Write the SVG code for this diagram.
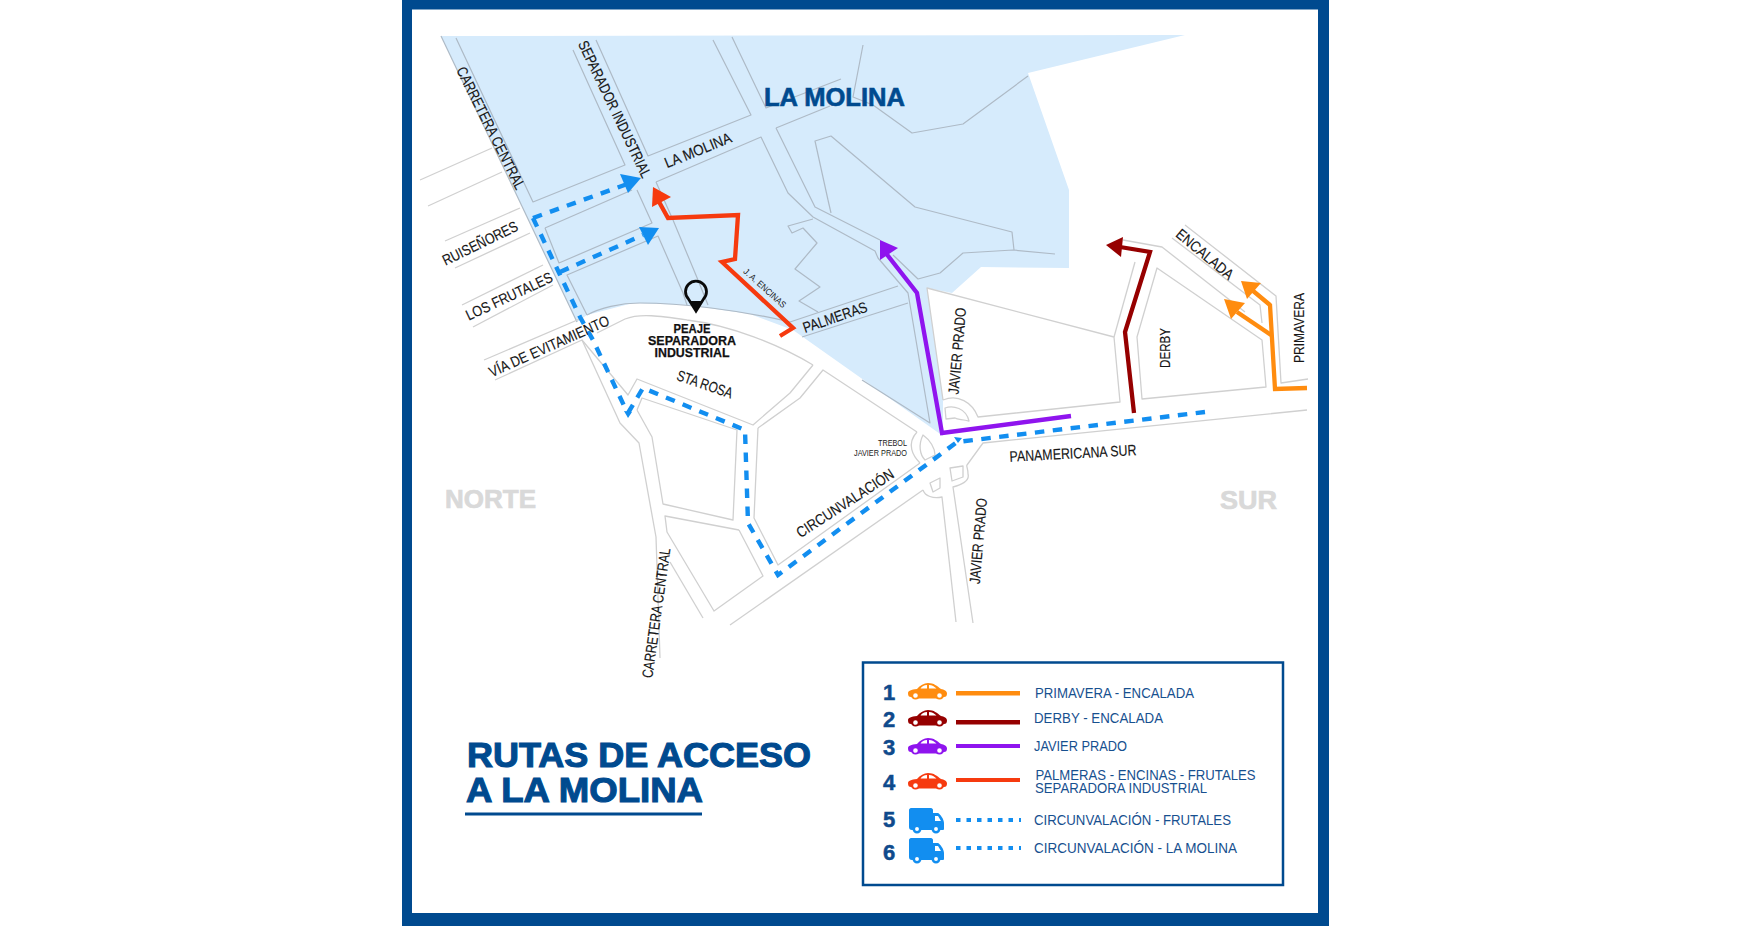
<svg xmlns="http://www.w3.org/2000/svg" width="1749" height="930" viewBox="0 0 1749 930">
<style>
text{font-family:"Liberation Sans",Arial,sans-serif}
.r{fill:none;stroke:#d0d0d0;stroke-width:1.300;stroke-linejoin:round}
.b{fill:none;stroke:#aebac6;stroke-width:1.200;stroke-linejoin:round}
.l{font-size:15px;fill:#161616;text-anchor:middle;stroke:#161616;stroke-width:.15}
.rt{fill:none;stroke-width:4.300;stroke-linejoin:miter}
.d{fill:none;stroke:#128ef0;stroke-width:4.400;stroke-dasharray:9.500 8.500}
.lg{font-size:15px;fill:#17508f}
.n{font-size:22px;font-weight:700;fill:#0f4a8c;text-anchor:middle;stroke:#0f4a8c;stroke-width:.5}
.t{font-size:35px;font-weight:700;fill:#004a8f;stroke:#004a8f;stroke-width:1.100}
.z{font-size:26px;font-weight:700;fill:#d9d9d9;stroke:#d9d9d9;stroke-width:.7}
.p{font-size:12.500px;font-weight:700;fill:#111;text-anchor:middle;stroke:#111;stroke-width:.25}
</style>
<defs>
<g id="car"><path fill="currentColor" d="M0,10C0,8 3,6.500 9,6C12,2.500 16,0 20,0C26,0 29,3 33,6C36,6.500 39,8 39,10.500C39,13 38,14 36,14L33,15.500H6L3,14C1,14 0,13 0,10Z"/><path fill="#fff" d="M12.500,5.500C14,3 16,2.200 19,2V5.500ZM21,2C24,2.200 26.500,3.500 28.500,5.500H21Z"/><circle cx="7.500" cy="12.500" r="3.200" fill="#fff" stroke="currentColor" stroke-width="1.800"/><circle cx="31.500" cy="12.500" r="3.200" fill="#fff" stroke="currentColor" stroke-width="1.800"/></g>
<g id="truck"><path fill="#128ef0" d="M2,0H22C23,0 24,1 24,2V5H29C31,6 35,11 35,15V21C35,22 34,22 33,22H3C1,22 0,21 0,19V2C0,1 1,0 2,0Z"/><path fill="#fff" d="M26,8H29L32,13H26Z"/><circle cx="8" cy="21" r="3.200" fill="#fff" stroke="#128ef0" stroke-width="2.500"/><circle cx="27" cy="21" r="3.200" fill="#fff" stroke="#128ef0" stroke-width="2.500"/></g>
</defs>
<rect width="1749" height="930" fill="#fff"/>
<g id="frame"><rect x="402" y="0" width="927" height="926" fill="#004a8f"/><rect x="412" y="9.500" width="906" height="903.500" fill="#fff"/></g>
<polygon id="area" fill="#d6ebfc" points="441,36 1185,35 1028,73 1069,190 1069,268 981,267 952,293 927,288 943,400 943,436 793,330 750,314 687,305 633,303 587,315 577,322"/>
<g id="roads">
<polyline class="b" points="441,36 577,322"/>
<polyline class="b" points="456,38 533,202 625,165 573,50"/>
<polyline class="b" points="596,40 648,156 751,115 713,40"/>
<polyline class="b" points="732,37 766,108 841,79"/>
<polyline class="b" points="863,45 853,97 873,105 912,133 963,124 1028,76"/>
<polyline class="b" points="776,128 830,106"/>
<polyline class="b" points="776,128 815,207 880,240"/>
<polyline class="b" points="893,255 918,279 940,273 963,253 1013,250 1055,254"/>
<polyline class="b" points="828,200 815,141 831,136 915,207 1012,232 1014,250"/>
<polyline class="b" points="828,200 831,213"/>
<polyline class="b" points="656,182 761,137 788,193 813,217 875,251 878,258 908,293 930,423 862,380"/>
<polyline class="b" points="813,219 788,226 792,233 803,228 817,243 795,269 820,287 799,301 818,312"/>
<polyline class="b" points="790,322 898,286"/>
<polyline class="b" points="802,337 908,303"/>
<polyline class="b" points="545,228 632,190"/>
<polyline class="b" points="545,228 559,263 652,223 637,190"/>
<polyline class="b" points="587,315 567,275 658,236 683,293 687,305"/>
<polyline class="b" points="656,182 673,220 698,280 708,305"/>
<path class="b" d="M587,315C600,308 620,303 640,303C680,303 740,310 790,322"/>
<polyline class="r" points="420,180 492,148"/>
<polyline class="r" points="428,206 502,172"/>
<polyline class="r" points="445,241 520,208"/>
<polyline class="r" points="455,268 530,233"/>
<polyline class="r" points="462,305 543,265"/>
<polyline class="r" points="473,327 553,285"/>
<polyline class="r" points="484,360 582,318"/>
<polyline class="r" points="495,380 582,340 628,395 637,379 753,425 790,393 813,365"/>
<path class="r" d="M813,365C780,345 730,325 687,320C660,316 640,313 625,319L597,333"/>
<polyline class="r" points="582,340 620,423 639,443 656,537 660,658"/>
<polyline class="r" points="637,410 652,437 663,504 733,520 737,430 642,398 637,410"/>
<polyline class="r" points="758,428 754,518 778,565 920,463"/>
<polyline class="r" points="758,428 800,398 823,370 917,432"/>
<path class="r" d="M917,432C906,444 913,456 920,463"/>
<polyline class="r" points="739,530 763,576 714,611 667,532 665,516 739,530"/>
<polyline class="r" points="670,562 703,618"/>
<polyline class="r" points="730,625 923,490"/>
<path class="r" d="M923,490C925,496 933,499 942,497L956,622"/>
<path class="r" d="M973,623L953,487C961,485 970,481 968,474C968,468 966,466 967,465L983,443L1307,410"/>
<path class="r" d="M943,400C958,394 972,402 978,417L1120,402L1114,337L927,288L943,400"/>
<path class="r" d="M945,408C953,405 966,408 969,421C962,419 958,420 955,418L946,419Z"/>
<path class="r" d="M923,435C930,440 935,448 935,455L925,460C920,455 918,445 923,435Z"/>
<polygon class="r" points="950,468 963,466 963,477 952,481"/>
<polygon class="r" points="930,483 940,478 940,488 933,492"/>
<polyline class="r" points="1114,337 1135,262"/>
<polygon class="r" points="1142,399 1137,337 1157,268 1262,340 1266,387"/>
<polyline class="r" points="1185,225 1276,296 1281,383 1308,379"/>
<polyline class="r" points="1123,240 1162,247 1245,312"/>
<polyline class="r" points="1172,238 1260,305 1262,323"/>
</g>
<g id="connectors">
<polyline class="d" points="533,218 580,317 593,340 627,412"/>
<polyline class="d" points="628,413 643,388 745,430 748,523 778,575 957,442 1205,412"/>
<polyline class="d" points="533,218 630,183"/>
<polygon fill="#128ef0" points="641,178 620,174 628,193"/>
<polyline class="d" points="560,272 643,235"/>
<polygon fill="#128ef0" points="659,228 639,227 648,245"/>
<polygon fill="#128ef0" points="624,411 632,412 628,418"/>
<polygon fill="#128ef0" points="954,437 962,438 958,443"/>
<polyline class="rt" stroke="#f63a0f" points="780,336 793,328 722,262 735,259 738,215 668,218 658,200"/>
<polygon fill="#f63a0f" points="653,187 652,207 671,197"/>
<polyline class="rt" stroke="#8f14ee" points="1071,416 942,433 917,293 885,252"/>
<polygon fill="#8f14ee" points="880,240 880,260 898,248"/>
<polyline class="rt" stroke="#960000" points="1134,413 1125,332 1150,252 1120,247"/>
<polygon fill="#960000" points="1106,245 1123,237 1121,257"/>
<polyline class="rt" stroke="#ff8c0f" points="1307,388 1275,389 1270,305 1252,290"/>
<polygon fill="#ff8c0f" points="1241,281 1261,283 1247,299"/>
<polyline class="rt" stroke="#ff8c0f" points="1271,335 1237,312"/>
<polygon fill="#ff8c0f" points="1224,299 1245,303 1231,319"/>
</g>
<g id="labels">
<text class="l" dy=".36em" transform="translate(491,128) rotate(63.500)" textLength="135" lengthAdjust="spacingAndGlyphs">CARRETERA CENTRAL</text>
<text class="l" dy=".36em" transform="translate(615,109) rotate(64.500)" textLength="150" lengthAdjust="spacingAndGlyphs">SEPARADOR INDUSTRIAL</text>
<text class="l" dy=".36em" transform="translate(698,150) rotate(-22)" textLength="71" lengthAdjust="spacingAndGlyphs">LA MOLINA</text>
<text class="l" dy=".36em" transform="translate(480,243) rotate(-26)" textLength="82" lengthAdjust="spacingAndGlyphs">RUISEÑORES</text>
<text class="l" dy=".36em" transform="translate(509,296) rotate(-25)" textLength="94" lengthAdjust="spacingAndGlyphs">LOS FRUTALES</text>
<text class="l" dy=".36em" transform="translate(549,346) rotate(-24)" textLength="130" lengthAdjust="spacingAndGlyphs">VÍA DE EVITAMIENTO</text>
<text class="l" style="font-size:9px;stroke-width:0" dy=".36em" transform="translate(765,288) rotate(42)" textLength="54" lengthAdjust="spacingAndGlyphs">J. A. ENCINAS</text>
<text class="l" dy=".36em" transform="translate(835,317) rotate(-19)" textLength="67" lengthAdjust="spacingAndGlyphs">PALMERAS</text>
<text class="l" dy=".36em" transform="translate(705,384) rotate(19)" textLength="58" lengthAdjust="spacingAndGlyphs">STA ROSA</text>
<text class="l" dy=".36em" transform="translate(845,503) rotate(-33)" textLength="113" lengthAdjust="spacingAndGlyphs">CIRCUNVALACIÓN</text>
<text class="l" dy=".36em" transform="translate(656,613) rotate(-82)" textLength="131" lengthAdjust="spacingAndGlyphs">CARRETERA CENTRAL</text>
<text class="l" dy=".36em" transform="translate(957,351) rotate(-85)" textLength="87" lengthAdjust="spacingAndGlyphs">JAVIER PRADO</text>
<text class="l" dy=".36em" transform="translate(1165,348) rotate(-90)" textLength="40" lengthAdjust="spacingAndGlyphs">DERBY</text>
<text class="l" dy=".36em" transform="translate(1205,254) rotate(40)" textLength="70" lengthAdjust="spacingAndGlyphs">ENCALADA</text>
<text class="l" dy=".36em" transform="translate(1299,328) rotate(-90)" textLength="70" lengthAdjust="spacingAndGlyphs">PRIMAVERA</text>
<text class="l" dy=".36em" transform="translate(1073,453) rotate(-3)" textLength="127" lengthAdjust="spacingAndGlyphs">PANAMERICANA SUR</text>
<text class="l" dy=".36em" transform="translate(978,541) rotate(-85)" textLength="86" lengthAdjust="spacingAndGlyphs">JAVIER PRADO</text>
<text x="907" y="446" style="font-size:9.500px;fill:#222;text-anchor:end" textLength="29" lengthAdjust="spacingAndGlyphs">TREBOL</text>
<text x="907" y="456" style="font-size:9.500px;fill:#222;text-anchor:end" textLength="53" lengthAdjust="spacingAndGlyphs">JAVIER PRADO</text>
<text x="764" y="106" style="font-size:25px;font-weight:700;fill:#004a8f;stroke:#004a8f;stroke-width:.6" textLength="141" lengthAdjust="spacingAndGlyphs">LA MOLINA</text>
<text class="z" x="445" y="508" textLength="91" lengthAdjust="spacingAndGlyphs">NORTE</text>
<text class="z" x="1220" y="509" textLength="57" lengthAdjust="spacingAndGlyphs">SUR</text>
</g>
<g id="peaje">
<path fill="none" stroke="#0a0a0a" stroke-width="2.800" d="M696,311L688.500,299A10.500,10.500 0 1 1 703.500,299Z"/>
<path fill="#0a0a0a" d="M690,301H702L696,311Z"/>
<text class="p" x="692" y="333" textLength="37" lengthAdjust="spacingAndGlyphs">PEAJE</text>
<text class="p" x="692" y="345" textLength="88" lengthAdjust="spacingAndGlyphs">SEPARADORA</text>
<text class="p" x="692" y="357" textLength="75" lengthAdjust="spacingAndGlyphs">INDUSTRIAL</text>
</g>
<g id="title">
<text class="t" x="467" y="767" textLength="344" lengthAdjust="spacingAndGlyphs">RUTAS DE ACCESO</text>
<text class="t" x="466" y="802" textLength="237" lengthAdjust="spacingAndGlyphs">A LA MOLINA</text>
<rect x="465" y="812.500" width="237" height="3" fill="#004a8f"/>
</g>
<g id="legend">
<rect x="863" y="662.500" width="420" height="222.500" fill="#fff" stroke="#004a8f" stroke-width="2.500"/>
<g id="legend-1"><text class="n" x="889" y="700">1</text><use href="#car" x="908" y="683" color="#ff8c0f"/><rect x="956" y="691" width="64" height="4.500" fill="#ff8c0f"/><text class="lg" x="1035" y="698" textLength="159" lengthAdjust="spacingAndGlyphs">PRIMAVERA - ENCALADA</text></g>
<g id="legend-2"><text class="n" x="889" y="727">2</text><use href="#car" x="908" y="710" color="#960000"/><rect x="956" y="720" width="64" height="4.500" fill="#960000"/><text class="lg" x="1034" y="723" textLength="129" lengthAdjust="spacingAndGlyphs">DERBY - ENCALADA</text></g>
<g id="legend-3"><text class="n" x="889" y="755">3</text><use href="#car" x="908" y="738" color="#8f14ee"/><rect x="956" y="744" width="64" height="4" fill="#8f14ee"/><text class="lg" x="1034" y="751" textLength="93" lengthAdjust="spacingAndGlyphs">JAVIER PRADO</text></g>
<g id="legend-4"><text class="n" x="889" y="790">4</text><use href="#car" x="908" y="773" color="#f63a0f"/><rect x="956" y="778" width="64" height="4" fill="#f63a0f"/><text class="lg" x="1035.500" y="780" textLength="220" lengthAdjust="spacingAndGlyphs">PALMERAS - ENCINAS - FRUTALES</text><text class="lg" x="1035" y="793" textLength="172" lengthAdjust="spacingAndGlyphs">SEPARADORA INDUSTRIAL</text></g>
<g id="legend-5"><text class="n" x="889" y="827">5</text><use href="#truck" x="909" y="808"/><line x1="956" y1="820" x2="1021" y2="820" stroke="#128ef0" stroke-width="4" stroke-dasharray="4.500 6"/><text class="lg" x="1034" y="825" textLength="197" lengthAdjust="spacingAndGlyphs">CIRCUNVALACIÓN - FRUTALES</text></g>
<g id="legend-6"><text class="n" x="889" y="860">6</text><use href="#truck" x="909" y="838"/><line x1="956" y1="848" x2="1021" y2="848" stroke="#128ef0" stroke-width="4" stroke-dasharray="4.500 6"/><text class="lg" x="1034" y="853" textLength="203" lengthAdjust="spacingAndGlyphs">CIRCUNVALACIÓN - LA MOLINA</text></g>
</g>
</svg>
